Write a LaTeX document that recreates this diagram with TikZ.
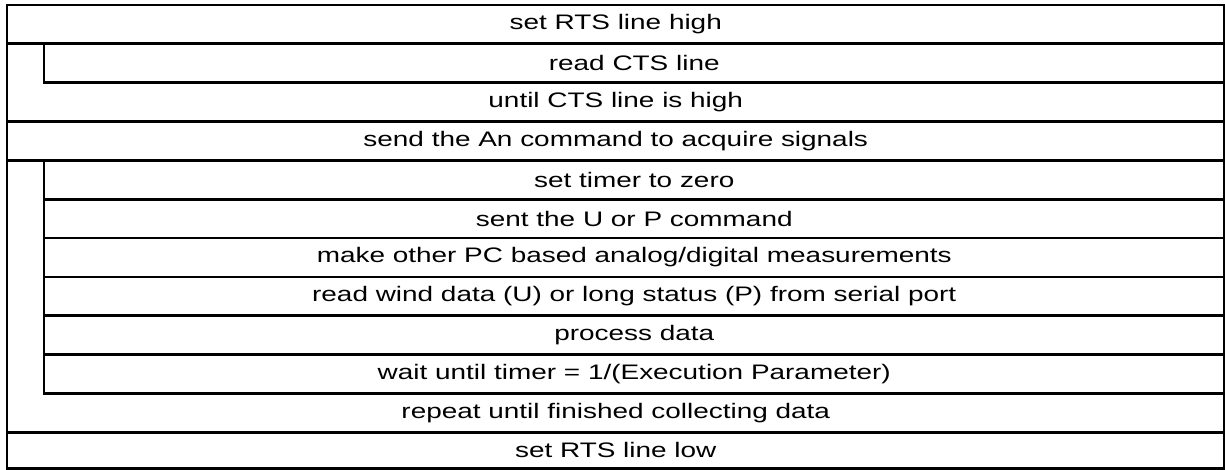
\documentclass[tikz,border=0pt]{standalone}
\usepackage{fontspec}
\setmainfont{Liberation Sans}[FakeStretch=1.33]
\begin{document}
\begin{tikzpicture}[x=1pt,y=-1pt,
  every node/.style={font=\fontsize{21}{24}\selectfont, inner sep=0pt, outer sep=0pt, anchor=center},
  fullbox/.style={draw, line width=2.8pt, minimum width=1217.5pt, minimum height=38.85pt},
  innerbox/.style={draw, line width=2.8pt, minimum width=1180.5pt, minimum height=38.85pt},
  fulltext/.style={minimum width=1217.5pt, minimum height=38.85pt},
  framebox/.style={draw, line width=2.8pt, minimum width=1217.5pt, minimum height=463.5pt}]
\useasboundingbox (0,0) rectangle (1225,470);
\node[framebox] (frame) at (615.75,236.75) {};
\node[fullbox] (r0) at (615.75,24.425) {set RTS line high};
\node[innerbox] (r1) at (634.25,63.275) {read CTS line};
\node[fulltext] (r2) at (615.75,102.125) {until CTS line is high};
\node[fullbox] (r3) at (615.75,140.975) {send the An command to acquire signals};
\node[innerbox] (r4) at (634.25,179.825) {set timer to zero};
\node[innerbox] (r5) at (634.25,218.675) {sent the U or P command};
\node[innerbox] (r6) at (634.25,257.525) {make other PC based analog/digital measurements};
\node[innerbox] (r7) at (634.25,296.375) {read wind data (U) or long status (P) from serial port};
\node[innerbox] (r8) at (634.25,335.225) {process data};
\node[innerbox] (r9) at (634.25,374.075) {wait until timer = 1/(Execution Parameter)};
\node[fulltext] (r10) at (615.75,412.925) {repeat until finished collecting data};
\node[fullbox, minimum height=36.15pt] (r11) at (615.75,450.425) {set RTS line low};
\end{tikzpicture}
\end{document}
